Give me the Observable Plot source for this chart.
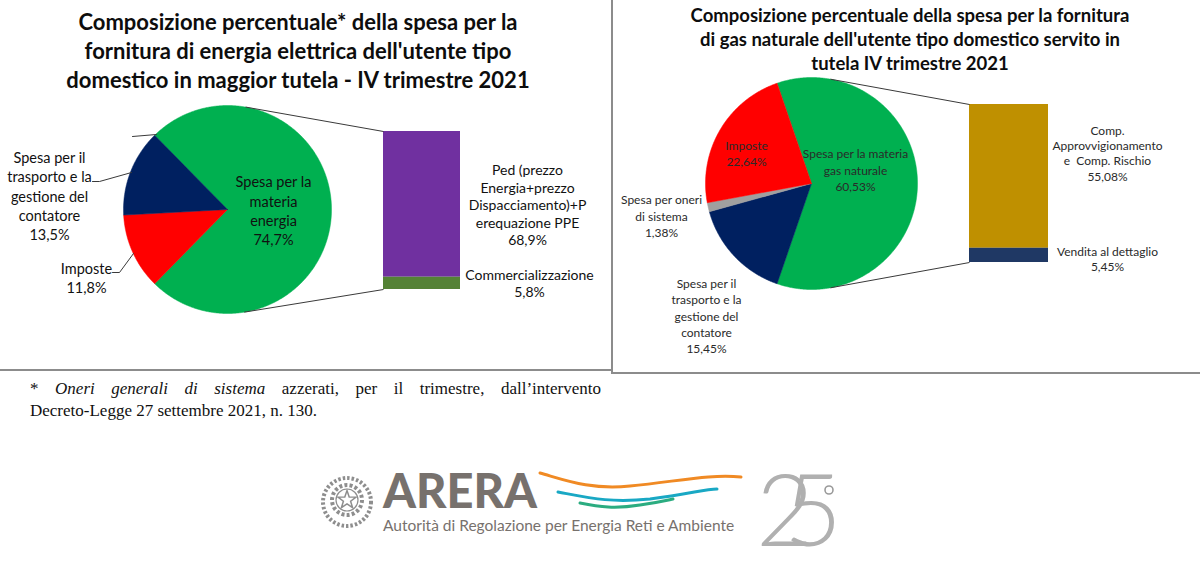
<!DOCTYPE html>
<html lang="it"><head><meta charset="utf-8">
<script src="https://cdn.jsdelivr.net/npm/d3@7"></script>
<script src="https://cdn.jsdelivr.net/npm/@observablehq/plot@0.6"></script>
<style>
html,body{margin:0;padding:0;background:#fff}
#page{position:relative;width:1200px;height:578px;overflow:hidden;font-family:Lato,"Open Sans",sans-serif}
.abs{position:absolute}
.title{position:absolute;text-align:center;font-weight:700;color:#0d0d0d;white-space:nowrap}
.rule{position:absolute;background:#8c8c8c}
#foot{position:absolute;left:30px;top:378px;width:571px;font-family:"Liberation Serif","Times New Roman",serif;font-size:17px;line-height:22px;color:#111}
#foot .l1{text-align:justify;text-align-last:justify}
</style></head>
<body><div id="page">
<div id="leftPlot" class="abs" style="left:0;top:0"></div>
<div id="rightPlot" class="abs" style="left:614px;top:0"></div>
<div class="rule" style="left:0;top:369px;width:612px;height:2px"></div>
<div class="rule" style="left:611px;top:0;width:2px;height:374px"></div>
<div class="rule" style="left:611px;top:372px;width:589px;height:2px"></div>
<div class="title" style="left:0;width:596px;top:7px;font-size:22px;line-height:29px">Composizione percentuale* della spesa per la<br>fornitura di energia elettrica dell'utente tipo<br>domestico in maggior tutela - IV trimestre 2021</div>
<div class="title" style="left:614px;width:592px;top:3px;font-size:18.5px;line-height:24px">Composizione percentuale della spesa per la fornitura<br>di gas naturale dell'utente tipo domestico servito in<br>tutela IV trimestre 2021</div>
<div id="foot"><div class="l1">* <i>Oneri generali di sistema</i> azzerati, per il trimestre, dall’intervento</div><div>Decreto-Legge 27 settembre 2021, n. 130.</div></div>
<svg id="logo" class="abs" style="left:300px;top:440px" width="560" height="138" viewBox="300 440 560 138">
  <g id="emblem" fill="none" stroke="#8e8e8e">
    <circle cx="347" cy="502" r="24" stroke-width="4" stroke-dasharray="2.5 2"/>
    <circle cx="347" cy="500" r="15" stroke-width="4" stroke-dasharray="3 2.2"/>
    <circle cx="347" cy="500" r="11" stroke-width="1.2"/>
  </g>
  <text x="383" y="508" font-family="Lato" font-weight="900" font-size="47" fill="#77716d">ARERA</text>
  <text x="383" y="531" font-family="Lato" font-size="15.5" fill="#77716d">Autorità di Regolazione per Energia Reti e Ambiente</text>
  <path d="M540,473 C 565,480 590,490 630,486 C 680,481 710,474 741,477" stroke="#f08a24" stroke-width="3" fill="none" stroke-linecap="round"/>
  <path d="M558,492 C 590,498 610,503 650,499 C 690,494 705,489 717,489" stroke="#19a8c4" stroke-width="3" fill="none" stroke-linecap="round"/>
  <path d="M580,503 C 600,507 615,509 640,505 C 660,502 668,500 673,499" stroke="#2bac80" stroke-width="3" fill="none" stroke-linecap="round"/>
  <text x="756" y="546" font-family="Lato" font-weight="300" font-size="100" fill="#b0b0b0" letter-spacing="-30">25</text>
  <circle cx="829" cy="490" r="4" fill="none" stroke="#9a9a9a" stroke-width="1.6"/>
</svg>
</div>
<script>
// ================= DATA =================
const elecPieCategories = ["Spesa per la materia energia", "Imposte", "Spesa per il trasporto e la gestione del contatore"];
const elecPieValues = [74.7, 11.8, 13.5];
const elecPieLabels = ["Spesa per la\nmateria\nenergia\n74,7%", "Imposte\n11,8%", "Spesa per il\ntrasporto e la\ngestione del\ncontatore\n13,5%"];
const elecBarCategories = ["Ped (prezzo Energia+prezzo Dispacciamento)+Perequazione PPE", "Commercializzazione"];
const elecBarValues = [68.9, 5.8];
const elecBarLabels = ["Ped (prezzo\nEnergia+prezzo\nDispacciamento)+P\nerequazione PPE\n68,9%", "Commercializzazione\n5,8%"];

const gasPieCategories = ["Spesa per la materia gas naturale", "Spesa per il trasporto e la gestione del contatore", "Spesa per oneri di sistema", "Imposte"];
const gasPieValues = [60.53, 15.45, 1.38, 22.64];
const gasPieLabels = ["Spesa per la materia\ngas naturale\n60,53%", "Spesa per il\ntrasporto e la\ngestione del\ncontatore\n15,45%", "Spesa per oneri\ndi sistema\n1,38%", "Imposte\n22,64%"];
const gasBarCategories = ["Comp. Approvvigionamento e Comp. Rischio", "Vendita al dettaglio"];
const gasBarValues = [55.08, 5.45];
const gasBarLabels = ["Comp.\nApprovvigionamento\ne  Comp. Rischio\n55,08%", "Vendita al dettaglio\n5,45%"];

// ================= STYLE / LAYOUT =================
const elecPieColors = ["#00b050", "#ff0000", "#002060"];
const elecBarColors = ["#7030a0", "#548235"];
const gasPieColors = ["#00b050", "#002060", "#a0a0a0", "#ff0000"];
const gasBarColors = ["#bf9000", "#1f3864"];

const elecLayout = {
  x0: 0, W: 610, H: 368, cx: 227, cy: 209, r: 104,
  bar: {x1: 383, x2: 460, y1: 131, y2: 289},
  pieLabelPos: [[273, 209.5], [86, 277], [49, 195]],
  barLabelPos: [[527, 204], [529, 282.5]],
  pieFont: 14.5, pieLH: 1.33, barFont: 14, barLH: 1.25, labelFill: "#111",
  leaders: [[[132, 136], [156, 134]], [[92, 181], [99, 181], [131, 172]], [[112, 272], [119, 272], [133, 253]]]
};
const gasLayout = {
  x0: 614, W: 586, H: 370, cx: 811, cy: 183, r: 106,
  bar: {x1: 969, x2: 1048, y1: 104, y2: 262},
  pieLabelPos: [[855, 169], [706, 315], [661, 215], [746, 152.5]],
  barLabelPos: [[1107, 152.5], [1107, 258]],
  pieFont: 12, pieLH: 1.35, barFont: 12, barLH: 1.27, labelFill: "#2a2a2a",
  leaders: []
};

function panel(pieValues, pieCats, pieColors, pieLabels, barValues, barCats, barColors, barLabels, lay) {
  const total = d3.sum(pieValues);
  const mainSpan = pieValues[0] / total * 360;
  const rad = Math.PI / 180;
  const pts = [];
  let a = 90 - mainSpan / 2;
  pieValues.forEach((v, i) => {
    const span = v / total * 360;
    const n = Math.max(4, Math.ceil(span * 2));
    pts.push({k: pieCats[i], c: pieColors[i], x: lay.cx, y: lay.cy});
    for (let j = 0; j <= n; j++) {
      const t = (a + span * j / n) * rad;
      pts.push({k: pieCats[i], c: pieColors[i], x: lay.cx + lay.r * Math.sin(t), y: lay.cy - lay.r * Math.cos(t)});
    }
    pts.push({k: pieCats[i], c: pieColors[i], x: lay.cx, y: lay.cy});
    a += span;
  });
  const btotal = d3.sum(barValues);
  const b = lay.bar;
  let cum = 0;
  const segs = barValues.map((v, i) => {
    const s = {k: barCats[i], c: barColors[i], x1: b.x1, x2: b.x2,
      y1: b.y1 + cum / btotal * (b.y2 - b.y1), y2: b.y1 + (cum + v) / btotal * (b.y2 - b.y1)};
    cum += v;
    return s;
  });
  function tangent(px, py, sign) {
    const dx = px - lay.cx, dy = py - lay.cy;
    const d = Math.hypot(dx, dy);
    const th = Math.atan2(dx, -dy) / rad;
    const al = Math.acos(lay.r / d) / rad;
    const t = (th + sign * al) * rad;
    return {x1: lay.cx + lay.r * Math.sin(t), y1: lay.cy - lay.r * Math.cos(t), x2: px, y2: py};
  }
  const conns = [tangent(b.x1, b.y1, -1), tangent(b.x1, b.y2, +1)];
  const pieText = pieLabels.map((t, i) => ({t, x: lay.pieLabelPos[i][0], y: lay.pieLabelPos[i][1]}));
  const barText = barLabels.map((t, i) => ({t, x: lay.barLabelPos[i][0], y: lay.barLabelPos[i][1]}));
  const leaderPts = lay.leaders.flatMap((l, i) => l.map(p => ({z: i, x: p[0], y: p[1]})));

  return Plot.plot({
    width: lay.W, height: lay.H, margin: 0,
    x: {domain: [lay.x0, lay.x0 + lay.W], axis: null},
    y: {domain: [0, lay.H], range: [0, lay.H], axis: null},
    color: {type: "identity"},
    style: {background: "transparent", overflow: "visible", fontFamily: "Lato"},
    marks: [
      Plot.line(pts, {x: "x", y: "y", z: "k", fill: "c", stroke: "c", strokeWidth: 0.5, curve: "linear"}),
      Plot.rect(segs, {x1: "x1", x2: "x2", y1: "y1", y2: "y2", fill: "c"}),
      Plot.link(conns, {x1: "x1", y1: "y1", x2: "x2", y2: "y2", stroke: "#3a3a3a", strokeWidth: 1}),
      Plot.line(leaderPts, {x: "x", y: "y", z: "z", stroke: "#3a3a3a", strokeWidth: 1}),
      Plot.text(pieText, {x: "x", y: "y", text: "t", fontSize: lay.pieFont, lineHeight: lay.pieLH, fill: lay.labelFill, fontFamily: "Lato"}),
      Plot.text(barText, {x: "x", y: "y", text: "t", fontSize: lay.barFont, lineHeight: lay.barLH, fill: lay.labelFill, fontFamily: "Lato"})
    ]
  });
}

document.getElementById("leftPlot").appendChild(
  panel(elecPieValues, elecPieCategories, elecPieColors, elecPieLabels, elecBarValues, elecBarCategories, elecBarColors, elecBarLabels, elecLayout));
document.getElementById("rightPlot").appendChild(
  panel(gasPieValues, gasPieCategories, gasPieColors, gasPieLabels, gasBarValues, gasBarCategories, gasBarColors, gasBarLabels, gasLayout));

(function () {
  const g = document.getElementById("emblem");
  const pts = [];
  for (let i = 0; i < 10; i++) {
    const r = i % 2 ? 3.8 : 9.5, t = i * Math.PI / 5;
    pts.push((347 + r * Math.sin(t)).toFixed(1) + "," + (500 - r * Math.cos(t)).toFixed(1));
  }
  const p = document.createElementNS("http://www.w3.org/2000/svg", "polygon");
  p.setAttribute("points", pts.join(" "));
  p.setAttribute("stroke-width", "1.5");
  p.setAttribute("fill", "#fff");
  g.appendChild(p);
})();
</script>
</body></html>
